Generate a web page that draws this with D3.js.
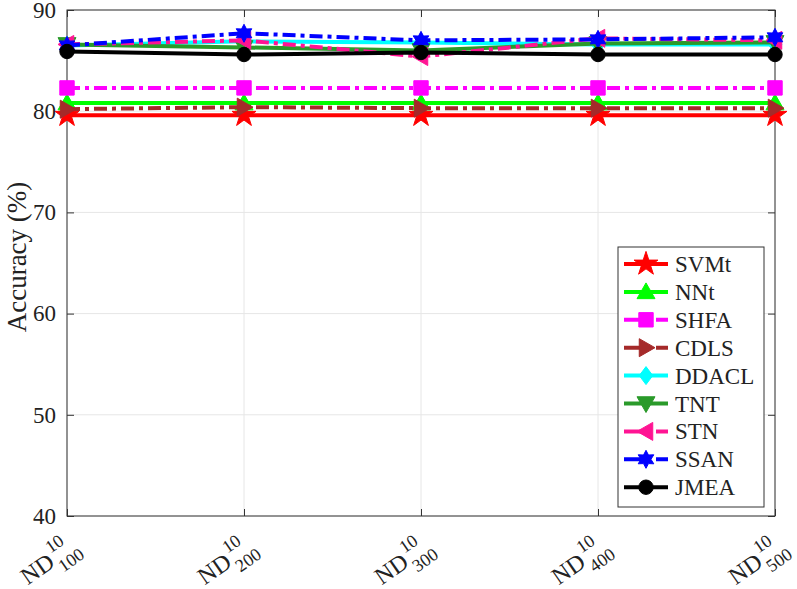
<!DOCTYPE html>
<html><head><meta charset="utf-8">
<script src="https://cdn.jsdelivr.net/npm/d3@7"></script>
<style>body{margin:0;background:#fff}svg{display:block}</style>
</head><body><svg id="c" width="797" height="589" style="font-family:'Liberation Serif','DejaVu Serif',serif"></svg>
<script>
const categories = ["100","200","300","400","500"];
const yTicks = [40,50,60,70,80,90];
const seriesNames = ["SVMt","NNt","SHFA","CDLS","DDACL","TNT","STN","SSAN","JMEA"];
const SVMt  = [79.6,79.6,79.6,79.6,79.6];
const NNt   = [80.8,80.8,80.8,80.8,80.8];
const SHFA  = [82.3,82.3,82.3,82.3,82.3];
const CDLS  = [80.2,80.4,80.3,80.3,80.3];
const DDACL = [86.5,86.9,86.8,86.6,86.6];
const TNT   = [86.6,86.3,86.0,86.7,86.8];
const STN   = [86.6,87.0,85.4,87.2,87.0];
const SSAN  = [86.5,87.7,87.0,87.1,87.3];
const JMEA  = [85.9,85.6,85.8,85.6,85.6];
const seriesValues = [SVMt,NNt,SHFA,CDLS,DDACL,TNT,STN,SSAN,JMEA];

const FONT = "'Liberation Serif','DejaVu Serif',serif";
const colors = ["#ff0000","#00ff00","#ff00ff","#a52a2a","#00ffff","#2a9a2a","#ff1493","#0000ff","#000000"];
const dashed = [false,false,true,true,false,false,true,true,false];
const markers = ["star5","triUp","square","triRight","diamond","triDown","triLeft","star6","circle"];

const svg = d3.select("#c");
const L=67,R=775,T=10,B=516;
const x = d3.scalePoint().domain(categories).range([L,R]);
const y = d3.scaleLinear().domain([40,90]).range([B,T]);

// grid
svg.append("g").selectAll("line").data(yTicks).join("line")
  .attr("x1",L).attr("x2",R).attr("y1",d=>y(d)).attr("y2",d=>y(d)).attr("stroke","#e6e6e6").attr("stroke-width",1);
svg.append("g").selectAll("line").data(categories).join("line")
  .attr("x1",d=>x(d)).attr("x2",d=>x(d)).attr("y1",T).attr("y2",B).attr("stroke","#e6e6e6").attr("stroke-width",1);

// axes
const yAxis = d3.axisLeft(y).tickValues(yTicks).tickSize(-7).tickPadding(11);
const gy = svg.append("g").attr("transform",`translate(${L},0)`).call(yAxis);
gy.attr("font-family",null);
gy.selectAll("text").style("font-family",FONT).style("font-size","23px").attr("fill","#222");
gy.select(".domain").remove();
gy.selectAll("line").attr("stroke","#333");
const yAxisR = d3.axisRight(y).tickValues(yTicks).tickSize(-7).tickFormat("");
const gyr = svg.append("g").attr("transform",`translate(${R},0)`).call(yAxisR);
gyr.select(".domain").remove(); gyr.selectAll("line").attr("stroke","#333");
const xAxis = d3.axisBottom(x).tickSize(-7).tickFormat("");
const gx = svg.append("g").attr("transform",`translate(0,${B})`).call(xAxis);
gx.select(".domain").remove(); gx.selectAll("line").attr("stroke","#333");
const xAxisT = d3.axisTop(x).tickSize(-7).tickFormat("");
const gxt = svg.append("g").attr("transform",`translate(0,${T})`).call(xAxisT);
gxt.select(".domain").remove(); gxt.selectAll("line").attr("stroke","#333");
svg.append("rect").attr("x",L).attr("y",T).attr("width",R-L).attr("height",B-T)
  .attr("fill","none").attr("stroke","#333").attr("stroke-width",1);

// x tick labels (rotated)
categories.forEach(c=>{
  const g = svg.append("g").attr("transform",`translate(${x(c)+13},${B+33}) rotate(-35)`);
  const nd = g.append("text").text("ND").style("font-family",FONT).style("font-size","24px").attr("fill","#222");
  const w = nd.node().getComputedTextLength();
  const sup = g.append("text").text("10").attr("x",w+2).attr("y",-13).style("font-family",FONT).style("font-size","18px").attr("fill","#222");
  const sub = g.append("text").text(c).attr("x",w+2).attr("y",10).style("font-family",FONT).style("font-size","18px").attr("fill","#222");
  const tw = w+2+Math.max(sup.node().getComputedTextLength(), sub.node().getComputedTextLength());
  g.selectAll("text").attr("transform",`translate(${-tw},0)`);
});

// y title
svg.append("text").attr("transform","translate(26,257) rotate(-90)").attr("text-anchor","middle")
  .style("font-family",FONT).style("font-size","27px").attr("fill","#222").text("Accuracy (%)");

// marker generator
function markerPath(type, s){
  const r=s/2;
  switch(type){
    case "star5": return d3.symbol(d3.symbolStar, s*s*0.55)();
    case "triUp": return `M0,${-r}L${r},${r*0.75}L${-r},${r*0.75}Z`;
    case "triDown": return `M0,${r}L${r},${-r*0.75}L${-r},${-r*0.75}Z`;
    case "triRight": return `M${r},0L${-r*0.75},${-r}L${-r*0.75},${r}Z`;
    case "triLeft": return `M${-r},0L${r*0.75},${-r}L${r*0.75},${r}Z`;
    case "square": return `M${-r*0.8},${-r*0.8}h${1.6*r}v${1.6*r}h${-1.6*r}Z`;
    case "diamond": return `M0,${-r}L${r*0.75},0L0,${r}L${-r*0.75},0Z`;
    case "circle": return d3.symbol(d3.symbolCircle, Math.PI*(r*0.8)*(r*0.8))();
    case "star6": {
      let p=""; for(let i=0;i<12;i++){const a=-Math.PI/2+i*Math.PI/6; const rr=i%2?r*0.55:r; p+=(i?"L":"M")+(rr*Math.cos(a)).toFixed(2)+","+(rr*Math.sin(a)).toFixed(2);} return p+"Z";}
  }
}

const line = d3.line().x((d,i)=>x(categories[i])).y(d=>y(d));
const DASH = "13,5,4,5";
seriesValues.forEach((vals,k)=>{
  const g = svg.append("g");
  g.append("path").attr("d",line(vals)).attr("fill","none").attr("stroke",colors[k]).attr("stroke-width",4)
    .attr("stroke-dasharray",dashed[k]?DASH:null);
  g.selectAll("path.m").data(vals).join("path").attr("class","m")
    .attr("transform",(d,i)=>`translate(${x(categories[i])},${y(d)})`)
    .attr("d",markerPath(markers[k],18)).attr("fill",colors[k]).attr("stroke",colors[k]).attr("stroke-width",1);
});

// legend
const lg = svg.append("g");
lg.append("rect").attr("x",618).attr("y",247).attr("width",146).attr("height",260).attr("fill","#fff").attr("stroke","#333").attr("stroke-width",1);
seriesNames.forEach((n,k)=>{
  const yy = 264 + k*27.9;
  lg.append("line").attr("x1",624).attr("x2",668).attr("y1",yy).attr("y2",yy).attr("stroke",colors[k]).attr("stroke-width",4)
    .attr("stroke-dasharray",dashed[k]?"18,5,4,5":null);
  lg.append("path").attr("transform",`translate(646,${yy})`).attr("d",markerPath(markers[k],18)).attr("fill",colors[k]).attr("stroke",colors[k]);
  lg.append("text").attr("x",675).attr("y",yy+8).style("font-family",FONT).style("font-size","23px").attr("fill","#222").text(n);
});
</script></body></html>
